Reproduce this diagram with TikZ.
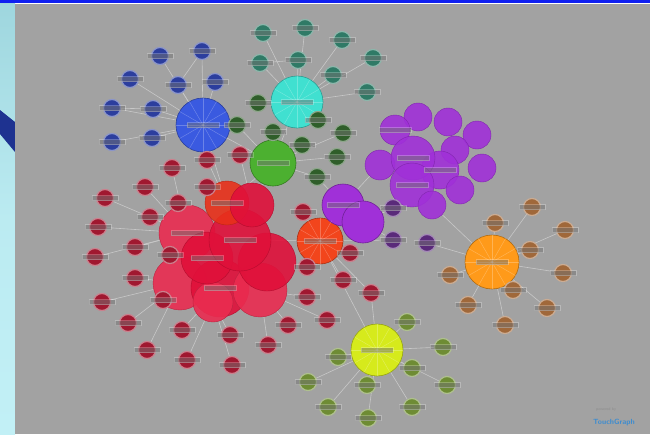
\documentclass[tikz,border=0pt]{standalone}
\usetikzlibrary{backgrounds}
\definecolor{graybg}{HTML}{A2A2A2}
\definecolor{stripA}{HTML}{9ED6DE}
\definecolor{stripB}{HTML}{C2F0F6}
\definecolor{navyband}{HTML}{1E3290}
\definecolor{topblue}{HTML}{1020F0}
\definecolor{edgec}{HTML}{C8C8C8}
\definecolor{bluehub}{HTML}{3A5AE0}
\definecolor{bluesat}{HTML}{2C3E9E}
\definecolor{tealhub}{HTML}{40E0D0}
\definecolor{tealsat}{HTML}{2F7A66}
\definecolor{greenhub}{HTML}{4CB030}
\definecolor{dgreen}{HTML}{2F5E2A}
\definecolor{redbig}{HTML}{E0103A}
\definecolor{pinkbig}{HTML}{EA2C50}
\definecolor{redorange}{HTML}{E8301A}
\definecolor{ohub}{HTML}{F2451C}
\definecolor{redsat}{HTML}{A01830}
\definecolor{purp}{HTML}{A030D8}
\definecolor{dpurp}{HTML}{5A2A7A}
\definecolor{orangehub}{HTML}{FF9A1A}
\definecolor{orangesat}{HTML}{A0683A}
\definecolor{yellowhub}{HTML}{D6EA1C}
\definecolor{olivesat}{HTML}{6E8C34}
\definecolor{tgblue}{HTML}{3C8CD0}
\tikzset{
  sat/.style={circle,inner sep=0pt,minimum size=17pt,fill=#1,draw=#1!55!white,line width=1.2pt},
  hub/.style={circle,inner sep=0pt,fill=#1,draw=#1!70!black,line width=0.6pt},
  blob/.style={circle,inner sep=0pt,fill=#1,fill opacity=0.9,draw=#1!80!black,line width=0.4pt},
  edge/.style={draw=edgec,line width=0.6pt},
  spoke/.style={draw=white,opacity=0.25,line width=0.5pt},
  labbar/.style={fill=black!55,opacity=0.5,draw=white,draw opacity=0.25,line width=0.4pt}
}
\begin{document}
\begin{tikzpicture}[x=1pt,y=-1pt]
\useasboundingbox (0,0) rectangle (650,434);
\begin{scope}[on background layer]
  \shade[top color=stripA,bottom color=stripB,middle color=stripB!80!stripA] (0,0) rectangle (15,434);
  \fill[navyband] (0,110) -- (15,122) -- (15,152) -- (0,134) -- cycle;
  \fill[graybg] (15,4) rectangle (650,434);
  \fill[topblue] (0,0) rectangle (650,3);
\end{scope}

% ---- red cluster blobs
\foreach \n/\x/\y/\d/\c in {
  R3/187/233/56/pinkbig, R7/180/283/54/pinkbig, R8/220/288/58/redbig,
  R10/213/302/40/pinkbig, R9/260/290/54/pinkbig, R6/267/262/58/redbig,
  R5/207/258/52/redbig, R4/240/240/62/redbig, R1/227/203/44/redorange,
  R2/252/205/44/redbig}
  \node[blob=\c,minimum size=\d pt] (\n) at (\x,\y) {};

% ---- purple big cluster
\foreach \n/\x/\y/\d in {
  P1/418/117/28, P2/448/122/28, P3/477/135/28, P4/395/130/30, P5/455/150/28,
  P6/482/168/28, P7/380/165/30, P12/440/170/38, P8/413/158/44, P9/412/185/44,
  P10/460/190/28, P11/432/205/28}
  \node[blob=purp,minimum size=\d pt] (\n) at (\x,\y) {};

% ---- hubs
\foreach \n/\x/\y/\d/\c in {
  B/203/125/54/bluehub, T/297/102/52/tealhub, G/273/163/46/greenhub,
  O/320/241/46/ohub, Q1/343/205/42/purp, Q2/363/222/42/purp,
  Oh/492/262/54/orangehub, Y/377/350/52/yellowhub}
  \node[hub=\c,minimum size=\d pt] (\n) at (\x,\y) {};

% faint spokes inside the main hubs
\foreach \n in {B,T,Oh,Y,O}
  \foreach \a in {0,30,...,330}
    \draw[spoke] (\n.center) -- (\n.\a);

\begin{scope}[on background layer]
  \foreach \a/\b in {B/G,T/G,G/R1,G/R2,R4/O,O/Q1,Q2/P9,Q1/P7,Y/O,Oh/P11,B/R1}
    \draw[edge] (\a) -- (\b);
\end{scope}

% ---- satellites: name/x/y/hub/colour
\foreach \n/\x/\y/\h/\c in {
  b1/160/56/B/bluesat, b2/202/51/B/bluesat, b3/130/79/B/bluesat, b4/178/85/B/bluesat,
  b5/215/82/B/bluesat, b6/112/108/B/bluesat, b7/153/109/B/bluesat, b8/112/142/B/bluesat,
  b9/152/138/B/bluesat,
  t1/263/33/T/tealsat, t2/305/28/T/tealsat, t3/342/40/T/tealsat, t4/260/63/T/tealsat,
  t5/298/60/T/tealsat, t6/373/58/T/tealsat, t7/333/75/T/tealsat, t8/367/92/T/tealsat,
  g1/258/103/T/dgreen, g2/237/125/G/dgreen, g3/318/120/T/dgreen, g4/343/133/G/dgreen,
  g5/273/132/G/dgreen, g6/302/145/G/dgreen, g7/337/157/G/dgreen, g8/317/177/G/dgreen,
  r1/207/160/R1/redsat, r2/240/155/R2/redsat, r3/172/168/R3/redsat, r4/145/187/R3/redsat,
  r5/207/187/R1/redsat, r6/105/198/R3/redsat, r7/150/217/R3/redsat, r8/178/203/R3/redsat,
  r9/98/227/R3/redsat, r10/135/247/R3/redsat, r11/95/257/R3/redsat, r12/170/255/R7/redsat,
  r13/135/278/R7/redsat, r14/102/302/R7/redsat, r15/163/300/R7/redsat, r16/128/323/R7/redsat,
  r17/182/330/R8/redsat, r18/147/350/R7/redsat, r19/230/335/R10/redsat, r20/187/360/R10/redsat,
  r21/232/365/R10/redsat, r22/268/345/R9/redsat, r23/288/325/R9/redsat, r25/307/297/R9/redsat,
  r26/303/212/O/redsat, r27/307/267/O/redsat, r28/350/253/O/redsat, r29/343/280/O/redsat,
  r30/371/293/O/redsat, r31/327/320/R9/redsat,
  p1/393/208/Q2/dpurp, p2/393/240/Q2/dpurp, p3/427/243/Oh/dpurp,
  o1/495/223/Oh/orangesat, o2/532/207/Oh/orangesat, o3/565/230/Oh/orangesat,
  o4/530/250/Oh/orangesat, o5/563/273/Oh/orangesat, o6/513/290/Oh/orangesat,
  o7/547/308/Oh/orangesat, o8/468/305/Oh/orangesat, o9/505/325/Oh/orangesat,
  o10/450/275/Oh/orangesat,
  y1/407/322/Y/olivesat, y2/443/347/Y/olivesat, y3/412/368/Y/olivesat, y4/447/385/Y/olivesat,
  y5/412/407/Y/olivesat, y6/368/418/Y/olivesat, y7/367/385/Y/olivesat, y8/338/357/Y/olivesat,
  y9/308/382/Y/olivesat, y10/328/407/Y/olivesat}
{
  \node[sat=\c] (\n) at (\x,\y) {};
  \fill[labbar] ([xshift=-13pt,yshift=-2.5pt]\n.center) rectangle ([xshift=13pt,yshift=2.5pt]\n.center);
  \begin{scope}[on background layer]
    \draw[edge] (\n) -- (\h);
  \end{scope}
}
\begin{scope}[on background layer]
  \foreach \a/\b in {r30/Y,p2/O,g2/B,g8/Q1,r2/G,b7/b6,b4/b2,t4/t5}
    \draw[edge] (\a) -- (\b);
\end{scope}

% ---- label bars on hubs and blobs
\foreach \n in {B,T,G,O,Q1,Oh,Y,R3,R4,R5,R8,R1,P8,P9,P4,P12}
  \fill[labbar] ([xshift=-16pt,yshift=-2.5pt]\n.center) rectangle ([xshift=16pt,yshift=2.5pt]\n.center);

% ---- logo
\node[font=\sffamily\fontsize{4}{4}\selectfont,text=black!45,inner sep=0pt] (pw) at (606,410) {powered by};
\node[font=\sffamily\bfseries\fontsize{7.5}{8}\selectfont,text=tgblue,inner sep=0pt] (tg) at (614,423) {TouchGraph};
\end{tikzpicture}
\end{document}
